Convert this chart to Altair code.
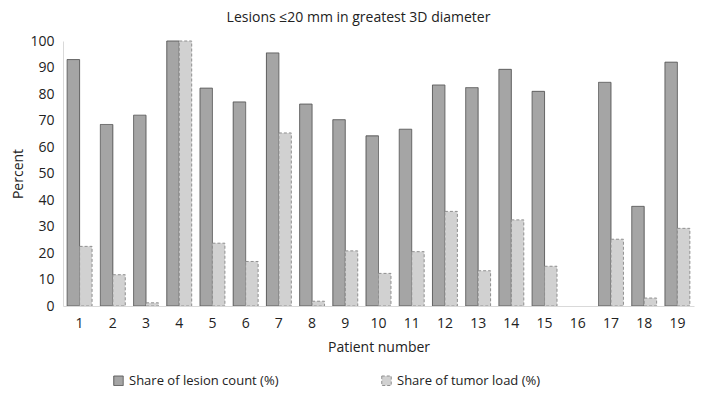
import altair as alt
import pandas as pd

patients = [str(i) for i in range(1, 20)]
lesion_count = [93, 68.5, 72, 100, 82.2, 77, 95.5, 76.2, 70.3, 64.2, 66.7, 83.4, 82.4, 89.3, 81, 0, 84.4, 37.6, 92]
tumor_load = [22.5, 11.8, 1.2, 100, 23.7, 16.8, 65.3, 1.8, 20.8, 12.3, 20.5, 35.7, 13.3, 32.5, 15, 0, 25.2, 3, 29.3]
series = ["Share of lesion count (%)", "Share of tumor load (%)"]

rows = []
for p, a, b in zip(patients, lesion_count, tumor_load):
    rows.append({"patient": p, "series": series[0], "value": a})
    rows.append({"patient": p, "series": series[1], "value": b})
df = pd.DataFrame(rows)

FONT = "Open Sans"


def leg():
    return alt.Legend(title=None, orient="none", direction="horizontal",
                      legendX=49, legendY=333, columnPadding=100,
                      symbolType="square", symbolSize=90,
                      labelFontSize=13, labelFont=FONT,
                      labelColor="#222222", symbolStrokeWidth=1,
                      labelLimit=300)


bars = alt.Chart(df).transform_filter("datum.value > 0").mark_bar(strokeWidth=1).encode(
    x=alt.X("patient:N", sort=patients,
            scale=alt.Scale(domain=patients, paddingInner=0.25, paddingOuter=0.125),
            axis=alt.Axis(title="Patient number", labelAngle=0, ticks=False,
                          domainColor="#d9d9d9", labelPadding=10, titlePadding=10,
                          zindex=1)),
    xOffset=alt.XOffset("series:N", sort=series, scale=alt.Scale(paddingInner=0, paddingOuter=0)),
    y=alt.Y("value:Q", scale=alt.Scale(domain=[0, 100], nice=False),
            axis=alt.Axis(title="Percent", values=list(range(0, 101, 10)), ticks=False,
                          grid=False, domainColor="#d9d9d9", labelPadding=9,
                          titlePadding=4)),
    color=alt.Color("series:N", sort=series,
                    scale=alt.Scale(domain=series, range=["#a5a5a5", "#d1d1d1"]),
                    legend=leg()),
    stroke=alt.Stroke("series:N", sort=series,
                      scale=alt.Scale(domain=series, range=["#5a5a5a", "#8f8f8f"]),
                      legend=leg()),
    strokeDash=alt.StrokeDash("series:N", sort=series,
                              scale=alt.Scale(domain=series, range=[[1, 0], [3, 2]]),
                              legend=leg()),
)

chart = bars.properties(
    width=631, height=265,
    title=alt.TitleParams("Lesions \u226420 mm in greatest 3D diameter", fontSize=14,
                          font=FONT, fontWeight="normal", color="#222222", offset=9,
                          anchor="middle", dx=-20),
    autosize=alt.AutoSizeParams(type="none"),
    padding={"left": 55, "top": 33, "right": 3, "bottom": 85},
).configure_view(stroke=None).configure_axis(
    labelFont=FONT, titleFont=FONT, labelFontSize=14, titleFontSize=14,
    labelColor="#222222", titleColor="#222222", titleFontWeight="normal"
)

chart.save("out.html", embed_options={"renderer": "svg", "actions": False})
